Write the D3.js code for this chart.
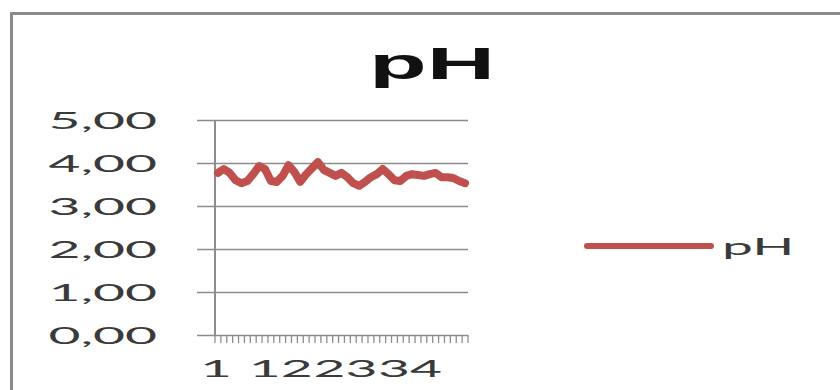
<!DOCTYPE html>
<html>
<head>
<meta charset="utf-8">
<script src="https://cdn.jsdelivr.net/npm/d3@7"></script>
<style>
  html, body { margin: 0; padding: 0; background: #fff; }
  svg { display: block; }
  text { font-family: Lato, "Liberation Sans", Arial, sans-serif; fill: #262626; }
  .tick-label { font-weight: 400; fill: #3a3a3a; }
</style>
</head>
<body>
<svg id="chart" width="840" height="390"></svg>
<script>
// pH readings per sample
const phValues = [
  3.77, 3.86, 3.77, 3.60, 3.53, 3.58, 3.74, 3.93, 3.86, 3.58,
  3.56, 3.70, 3.95, 3.79, 3.56, 3.74, 3.88, 4.02, 3.84, 3.77,
  3.70, 3.77, 3.67, 3.53, 3.47, 3.56, 3.67, 3.74, 3.86, 3.74,
  3.60, 3.58, 3.70, 3.74, 3.72, 3.70, 3.74, 3.77, 3.67, 3.67,
  3.65, 3.58, 3.53
];
const categories = phValues.map((_, i) => String(i + 1));
const xTickLabels = ["1", "12", "23", "34"];
const yTicks = [0, 1, 2, 3, 4, 5];
const seriesName = "pH";
const chartTitle = "pH";

const lineColor = "#C0504D";
const gridColor = "#8c8c8c";
const stretch = 2.3; // horizontal text stretch

const svg = d3.select("#chart");

// outer chart frame
svg.append("path")
  .attr("d", "M11.5,391 L11.5,13.5 L842,13.5")
  .attr("fill", "none")
  .attr("stroke", "#8a8a8a")
  .attr("stroke-width", 3);

const plot = { left: 215, right: 468, top: 120, bottom: 335 };

const x = d3.scaleBand().domain(categories).range([plot.left, plot.right]).padding(0);
const y = d3.scaleLinear().domain([0, 5]).range([plot.bottom, plot.top]);

// horizontal gridlines (extending left as outer ticks)
svg.append("g")
  .selectAll("line")
  .data(yTicks)
  .join("line")
  .attr("x1", plot.left - 18)
  .attr("x2", plot.right)
  .attr("y1", d => Math.round(y(d)) + 0.5)
  .attr("y2", d => Math.round(y(d)) + 0.5)
  .attr("stroke", gridColor)
  .attr("stroke-width", 1.3);

// y axis labels
const yAxis = d3.axisLeft(y)
  .tickValues(yTicks)
  .tickSize(0)
  .tickFormat(d => d3.format(".2f")(d).replace(".", ","));
const yg = svg.append("g").attr("transform", `translate(${plot.left},0)`).call(yAxis);
yg.select(".domain").remove();
yg.selectAll("text")
  .attr("class", "tick-label")
  .attr("x", null)
  .attr("dy", "0.36em")
  .attr("text-anchor", "end")
  .attr("font-size", 24)
  .attr("transform", `translate(-58,0) scale(${stretch},1)`);

// vertical axis line
svg.append("line")
  .attr("x1", plot.left).attr("x2", plot.left)
  .attr("y1", plot.top).attr("y2", plot.bottom)
  .attr("stroke", gridColor)
  .attr("stroke-width", 2);

// category tick marks at band boundaries
const boundaries = categories.map(c => x(c)).concat([plot.right]);
svg.append("g")
  .selectAll("line")
  .data(boundaries)
  .join("line")
  .attr("x1", d => d).attr("x2", d => d)
  .attr("y1", plot.bottom).attr("y2", plot.bottom + 8)
  .attr("stroke", gridColor)
  .attr("stroke-width", 1.3);

// category labels
const xAxis = d3.axisBottom(x).tickValues(xTickLabels).tickSize(0);
const xg = svg.append("g").attr("transform", `translate(0,${plot.bottom})`).call(xAxis);
xg.select(".domain").remove();
xg.selectAll("text")
  .attr("class", "tick-label")
  .attr("y", 0)
  .attr("dy", 0)
  .attr("text-anchor", "middle")
  .attr("font-size", 24)
  .attr("transform", `translate(-2,42) scale(${stretch},1)`);

// pH line
const line = d3.line()
  .x((d, i) => x(categories[i]) + x.bandwidth() / 2)
  .y(d => y(d));
svg.append("path")
  .datum(phValues)
  .attr("d", line)
  .attr("fill", "none")
  .attr("stroke", lineColor)
  .attr("stroke-width", 8)
  .attr("stroke-linejoin", "round")
  .attr("stroke-linecap", "round");

// title
svg.append("text")
  .attr("text-anchor", "middle")
  .attr("font-size", 44)
  .attr("font-weight", "bold")
  .style("font-family", "'Liberation Sans', Arial, sans-serif")
  .style("fill", "#111")
  .attr("transform", `translate(432,79) scale(2.15,1)`)
  .text(chartTitle);

// legend
const legend = svg.append("g").attr("transform", "translate(587,246)");
legend.append("line")
  .attr("x1", 0).attr("x2", 124)
  .attr("y1", 0).attr("y2", 0)
  .attr("stroke", lineColor)
  .attr("stroke-width", 6)
  .attr("stroke-linecap", "round");
legend.append("text")
  .attr("class", "tick-label")
  .attr("text-anchor", "start")
  .attr("dy", "0.36em")
  .attr("font-size", 24)
  .attr("transform", `translate(135,0) scale(${stretch},1)`)
  .text(seriesName);
</script>
</body>
</html>
